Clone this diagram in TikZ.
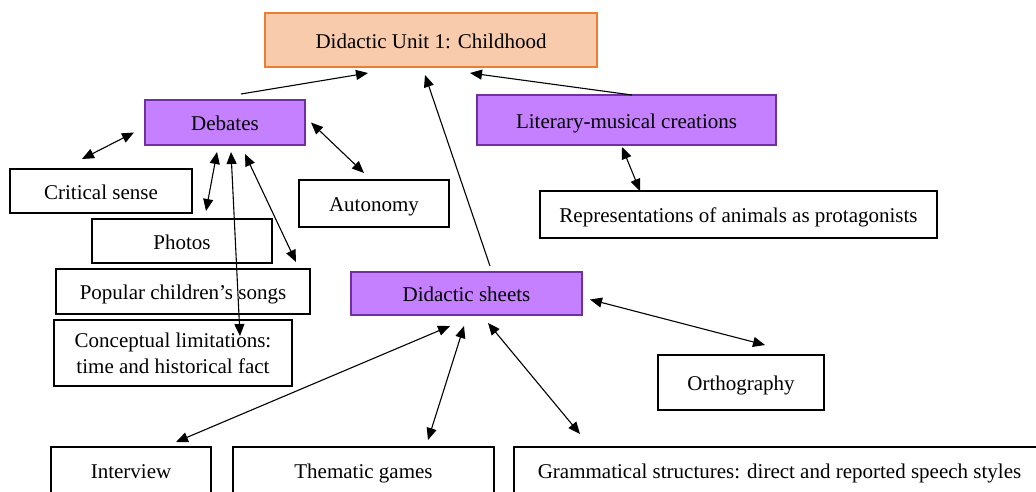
\documentclass[tikz,border=0pt]{standalone}
\usepackage{fontspec}
\setmainfont{Liberation Serif}
\usetikzlibrary{arrows.meta,calc}
\definecolor{orfill}{HTML}{F8CBAD}
\definecolor{ordraw}{HTML}{ED7D31}
\definecolor{pufill}{HTML}{C580FF}
\definecolor{pudraw}{HTML}{7030A0}
\tikzset{
  box/.style={draw=black,line width=2.4pt,fill=white,rectangle,inner sep=0pt,outer sep=0pt,align=center,
    font=\fontsize{21}{26}\selectfont,text height=20pt,text depth=4pt},
  topbox/.style={box,draw=ordraw,fill=orfill},
  midbox/.style={box,draw=pudraw,fill=pufill,line width=2pt},
  link/.style={line width=1.1pt,-{Triangle[length=12pt,width=10pt]}},
  dlink/.style={line width=1.1pt,{Triangle[length=12pt,width=10pt]}-{Triangle[length=12pt,width=10pt]}}
}
\begin{document}
\begin{tikzpicture}[x=1pt,y=-1pt]
\useasboundingbox (0,0) rectangle (1036,491);
\node[topbox,minimum width=332,minimum height=54] (title) at (431,40) {Didactic Unit 1: Childhood};
\node[midbox,minimum width=160,minimum height=45] (deb) at (225,122.5) {Debates};
\node[midbox,minimum width=299,minimum height=50] (lit) at (626.5,120) {Literary-musical creations};
\node[midbox,minimum width=231,minimum height=43] (ds) at (466.5,293.5) {Didactic sheets};
\node[box,minimum width=182,minimum height=44] (crit) at (101,191) {Critical sense};
\node[box,minimum width=180,minimum height=44] (photos) at (182,241) {Photos};
\node[box,minimum width=150,minimum height=47] (auto) at (374,203.5) {Autonomy};
\node[box,minimum width=254,minimum height=45] (songs) at (183,291.5) {Popular children’s songs};
\node[box,minimum width=238,minimum height=66,text height=,text depth=] (concept) at (173,353) {Conceptual limitations:\\time and historical fact};
\node[box,minimum width=397,minimum height=47] (repr) at (738.5,214.5) {Representations of animals as protagonists};
\node[box,minimum width=166,minimum height=55] (ortho) at (741,382.5) {Orthography};
\node[box,minimum width=160,minimum height=46] (inter) at (131,470) {Interview};
\node[box,minimum width=261,minimum height=46] (them) at (363.5,470) {Thematic games};
\node[box,minimum width=531,minimum height=46] (gram) at (779.5,470) {Grammatical structures: direct and reported speech styles};
% to title
\draw[link] ($(deb.north)+(16,-6)$) -- ($(title.south)+(-63,6)$);
\draw[link] ($(lit.north)+(5.5,0)$) -- ($(title.south)+(39,6)$);
\draw[link] ($(ds.north)+(23.5,-6)$) -- ($(title.south)+(-6,8)$);
% debates
\draw[dlink] ($(crit.north)+(-19,-10)$) -- ($(deb.west)+(-11,10)$);
\draw[dlink] ($(deb.south)+(-8,7)$) -- ($(photos.north)+(24,-8)$);
\draw[dlink] ($(deb.south)+(6,7)$) -- ($(concept.north)+(67,16)$);
\draw[dlink] ($(deb.south)+(20,9)$) -- ($(songs.north)+(113,-7)$);
\draw[dlink] ($(deb.east)+(6,0)$) -- ($(auto.north)+(-10,-7)$);
% literary
\draw[dlink] ($(lit.south)+(-4.5,2)$) -- ($(repr.north)+(-98.5,0)$);
% didactic sheets
\draw[dlink] ($(ds.south)+(-16.5,11)$) -- ($(inter.north)+(45,-5)$);
\draw[dlink] ($(ds.south)+(-2.5,11)$) -- ($(them.north)+(64.5,-7)$);
\draw[dlink] ($(ds.south)+(21.5,8)$) -- ($(gram.north)+(-199.5,-13)$);
\draw[dlink] ($(ds.east)+(8,6)$) -- ($(ortho.north)+(24,-10)$);
\end{tikzpicture}
\end{document}
